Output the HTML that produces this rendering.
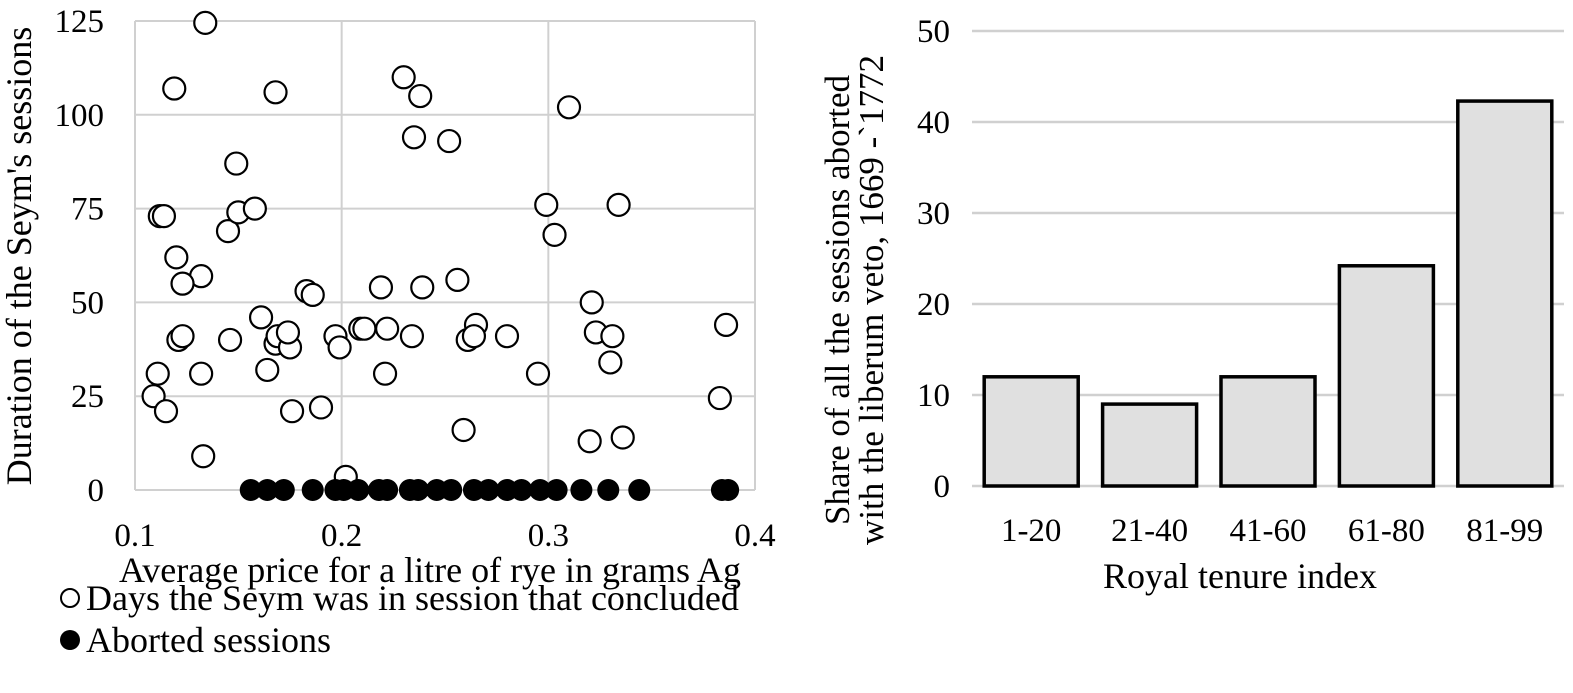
<!DOCTYPE html>
<html><head><meta charset="utf-8"><style>
body{margin:0;background:#fff}
svg text{font-family:"Liberation Serif",serif;fill:#000}
</style></head><body>
<svg id="chart" width="1573" height="688" viewBox="0 0 1573 688" xmlns="http://www.w3.org/2000/svg">
<g id="left"></g>
<g id="right"></g>
</svg>
<script>
const concludedX=[0.134,0.119,0.168,0.230,0.238,0.310,0.235,0.252,0.149,0.112,0.114,0.145,0.150,0.158,0.299,0.334,0.303,0.120,0.132,0.123,0.183,0.186,0.219,0.239,0.256,0.321,0.161,0.121,0.123,0.146,0.168,0.169,0.175,0.174,0.197,0.199,0.209,0.211,0.222,0.234,0.265,0.261,0.264,0.280,0.323,0.331,0.330,0.386,0.111,0.132,0.164,0.221,0.295,0.109,0.115,0.176,0.190,0.383,0.259,0.320,0.336,0.133,0.202];
const concludedY=[124.5,107,106,110,105,102,94,93,87,73,73,69,74,75,76,76,68,62,57,55,53,52,54,54,56,50,46,40,41,40,39,41,38,42,41,38,43,43,43,41,44,40,41,41,42,41,34,44,31,31,32,31,31,25,21,21,22,24.5,16,13,14,9,3.5];
const abortedX=[0.156,0.164,0.172,0.186,0.197,0.201,0.208,0.218,0.222,0.233,0.237,0.246,0.253,0.264,0.271,0.280,0.287,0.296,0.304,0.316,0.329,0.344,0.384,0.387];
const abortedY=abortedX.map(()=>0);
const xTicks=[0.1,0.2,0.3,0.4];
const yTicks=[0,25,50,75,100,125];
const barCats=["1-20","21-40","41-60","61-80","81-99"];
const barVals=[12,9,12,24.2,42.3];
const barTicks=[0,10,20,30,40,50];

const NS="http://www.w3.org/2000/svg";
function mk(parent,tag,attrs,txt){const e=document.createElementNS(NS,tag);for(const k in attrs)e.setAttribute(k,attrs[k]);if(txt!==undefined)e.textContent=txt;parent.appendChild(e);return e;}

// left scatter
const L=document.getElementById('left');
const lx0=135,lx1=755,ly0=490,ly1=21;
const sx=v=>lx0+(v-0.1)/0.3*(lx1-lx0);
const sy=v=>ly0-v/125*(ly0-ly1);
yTicks.forEach(t=>{
  const g=mk(L,'line',{x1:lx0,x2:lx1,y1:sy(t),y2:sy(t),stroke:'#d0d0d0','stroke-width':2});
  
  
  const tx=mk(L,'text',{x:104,y:sy(t)+11,'text-anchor':'end','font-size':33},String(t));
  
  
});
xTicks.forEach(t=>{
  const g=mk(L,'line',{x1:sx(t),x2:sx(t),y1:ly0,y2:ly1,stroke:'#d0d0d0','stroke-width':2});
  
  
  const tx=mk(L,'text',{x:sx(t),y:546,'text-anchor':'middle','font-size':33},t.toFixed(1));
  
  
});
concludedX.forEach((v,i)=>{
  const c=mk(L,'circle',{cx:sx(v),cy:sy(concludedY[i]),r:11,fill:'#fff',stroke:'#000','stroke-width':2.2});
  
  
});
abortedX.forEach((v,i)=>{
  const c=mk(L,'circle',{cx:sx(v),cy:sy(abortedY[i]),r:11,fill:'#000'});
  
  
});
let t1=mk(L,'text',{x:0,y:0,'text-anchor':'middle','font-size':36,transform:'translate(31,256) rotate(-90)'},"Duration of the Seym's sessions");


let t2=mk(L,'text',{x:430,y:582,'text-anchor':'middle','font-size':36},"Average price for a litre of rye in grams Ag");


let lc1=mk(L,'circle',{cx:70,cy:598,r:9,fill:'#fff',stroke:'#000','stroke-width':2});


let lt1=mk(L,'text',{x:86,y:610,'font-size':36},"Days the Seym was in session that concluded");


let lc2=mk(L,'circle',{cx:70,cy:640,r:10,fill:'#000'});


let lt2=mk(L,'text',{x:86,y:652,'font-size':36},"Aborted sessions");



// right bar chart
const R=document.getElementById('right');
const rx0=972,rx1=1564,ry0=486,ry1=31;
const by=v=>ry0-v/50*(ry0-ry1);
const bw=(rx1-rx0)/barCats.length;
barTicks.forEach(t=>{
  const g=mk(R,'line',{x1:rx0,x2:rx1,y1:by(t),y2:by(t),stroke:'#d0d0d0','stroke-width':2.5});
  
  
  const tx=mk(R,'text',{x:950,y:by(t)+11,'text-anchor':'end','font-size':33},String(t));
  
  
});
barCats.forEach((c,i)=>{
  const cx=rx0+bw*(i+0.5);
  const r=mk(R,'rect',{x:cx-47,y:by(barVals[i]),width:94,height:ry0-by(barVals[i]),fill:'#e0e0e0',stroke:'#000','stroke-width':3.5});
  
  
  const tx=mk(R,'text',{x:cx,y:541,'text-anchor':'middle','font-size':33},c);
  
  
});
let r1=mk(R,'text',{x:0,y:0,'text-anchor':'middle','font-size':35,transform:'translate(849,300) rotate(-90)'},"Share of all the sessions aborted");


let r2=mk(R,'text',{x:0,y:0,'text-anchor':'middle','font-size':35,transform:'translate(883,300) rotate(-90)'},"with the liberum veto, 1669 -`1772");


let r3=mk(R,'text',{x:1240,y:588,'text-anchor':'middle','font-size':36},"Royal tenure index");


</script>
</body></html>
